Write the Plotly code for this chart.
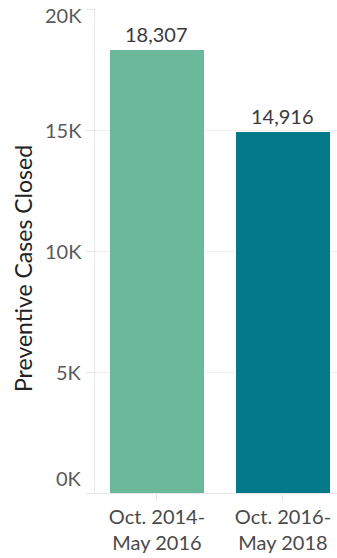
import plotly.graph_objects as go

# Closed preventive cases per two-year period
periods = ["Oct. 2014-<br>May 2016", "Oct. 2016-<br>May 2018"]
cases_closed = [18307, 14916]
bar_colors = ["#6cb89a", "#03798a"]

tick_values = [0, 5000, 10000, 15000, 20000]
tick_labels = ["0K", "5K", "10K", "15K", "20K"]

FONT = "Lato"
LINE = "#e6e6e6"
GRID = "#efefef"

fig = go.Figure()
fig.add_trace(go.Bar(
    x=[0, 1],
    y=cases_closed,
    width=0.746,
    marker=dict(color=bar_colors, line=dict(width=0)),
    hoverinfo="skip",
))

# Value labels above each bar
for i, v in enumerate(cases_closed):
    fig.add_annotation(
        x=i, xref="x", y=v, yref="y",
        xanchor="center", yanchor="bottom", yshift=2,
        text=f"{v:,}", showarrow=False,
        font=dict(family=FONT, size=20, color="#3a3a3a"),
    )

# Y tick labels as annotations so the end labels can sit inside the plot span
for v, lab in zip(tick_values, tick_labels):
    shift = 0
    if v == tick_values[0]:
        shift = 15
    elif v == tick_values[-1]:
        shift = -6
    fig.add_annotation(
        x=0, xref="paper", xanchor="right", xshift=-11,
        y=v, yref="y", yanchor="middle", yshift=shift,
        text=lab, showarrow=False,
        font=dict(family=FONT, size=20, color="#5a5a5a"),
    )

# Y axis title
fig.add_annotation(
    x=0, xref="paper", xanchor="center", xshift=-72,
    y=0.5, yref="paper", yanchor="middle", yshift=-18,
    text="Preventive Cases Closed", textangle=-90, showarrow=False,
    font=dict(family=FONT, size=23, color="#222222"),
)

fig.update_layout(
    width=337, height=558,
    margin=dict(l=95, r=0, t=9, b=65),
    paper_bgcolor="white", plot_bgcolor="white",
    showlegend=False,
    bargap=0,
    xaxis=dict(
        range=[-0.492, 1.429],
        tickmode="array", tickvals=[0, 1], ticktext=periods,
        tickfont=dict(family=FONT, size=20, color="#4a4a4a"),
        showgrid=False, zeroline=False,
        showline=True, linecolor=LINE, linewidth=1,
        ticks="outside", tickson="boundaries", ticklen=6, tickcolor=LINE,
        fixedrange=True,
    ),
    yaxis=dict(
        range=[0, 20000],
        tickmode="array", tickvals=tick_values,
        showticklabels=False,
        showgrid=True, gridcolor=GRID, gridwidth=1,
        zeroline=False,
        showline=True, linecolor=LINE, linewidth=1,
        ticks="outside", ticklen=8, tickcolor=LINE,
        fixedrange=True,
    ),
)

fig.write_html("out.html")
